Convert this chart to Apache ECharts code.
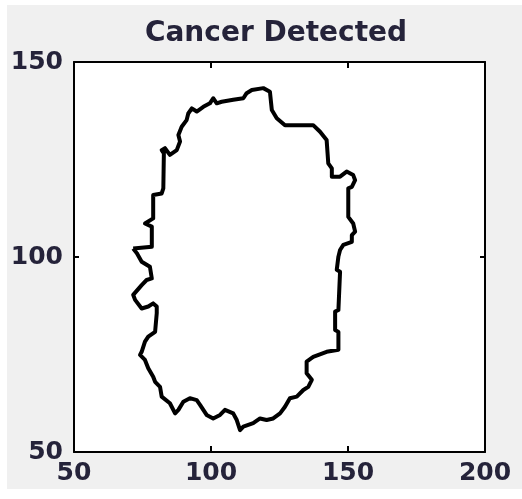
<!DOCTYPE html>
<html>
<head>
<meta charset="utf-8">
<script src="https://cdn.jsdelivr.net/npm/echarts@6/dist/echarts.min.js"></script>
<style>
  html, body { margin: 0; padding: 0; background: #ffffff; }
  #bg { position: absolute; left: 7px; top: 5px; width: 515px; height: 484px; background: #f0f0f0; }
  #chart { position: absolute; left: 0; top: 0; width: 522px; height: 499px; }
</style>
</head>
<body>
<div id="bg"></div>
<div id="chart"></div>
<script>
// Chart text
const titleText = 'Cancer Detected';
const xTicks = [50, 100, 150, 200];
const yTicks = [50, 100, 150];

// Contour of the detected region (x, y), traced clockwise
const contourX = [71.6, 78.4, 78.4, 75.9, 78.9, 78.9, 82.0, 82.6, 82.8, 82.0, 83.2, 85.0, 87.5, 88.7, 88.1, 89.3, 91.1, 91.7, 93.0, 94.8,
  97.2, 99.6, 100.8, 102.1, 103.9, 108.1, 111.8, 113.0, 114.9, 119.1, 121.5, 122.2, 124.0, 127.0, 137.3, 139.8, 142.2, 142.8, 144.1, 144.1,
  147.1, 149.5, 151.9, 152.6, 151.4, 150.1, 150.1, 151.9, 152.6, 151.4, 151.4, 148.3, 147.1, 146.5, 145.9, 147.1, 146.5, 145.3, 145.3, 146.5,
  146.5, 142.2, 137.3, 134.9, 134.9, 136.8, 135.5, 133.7, 131.3, 128.8, 127.0, 125.2, 122.7, 120.3, 117.9, 115.4, 111.8, 110.6, 109.4, 108.1,
  105.1, 103.3, 100.8, 98.4, 96.0, 94.8, 92.3, 89.9, 88.1, 86.9, 85.0, 82.0, 81.4, 79.6, 78.9, 77.1, 75.9, 74.1, 74.7, 75.9,
  77.1, 79.6, 80.2, 80.2, 78.9, 77.1, 74.7, 72.3, 71.6, 74.7, 76.5, 78.4, 77.7, 74.7, 72.9, 71.6];
const contourY = [102.2, 102.6, 107.8, 108.6, 109.9, 115.9, 116.3, 117.6, 126.6, 127.4, 127.9, 126.2, 127.4, 129.6, 131.3, 133.4, 135.1, 136.8, 138.1, 137.3,
  138.5, 139.4, 140.7, 139.4, 139.8, 140.3, 140.7, 142.0, 142.8, 143.3, 142.4, 137.7, 135.6, 133.8, 133.8, 132.1, 130.0, 124.0, 122.7, 120.6,
  120.6, 121.9, 121.0, 119.7, 118.0, 117.6, 110.3, 108.6, 106.5, 105.6, 103.9, 103.1, 101.8, 100.1, 96.7, 96.2, 86.4, 86.0, 81.3, 80.8,
  76.2, 75.7, 74.4, 73.2, 70.2, 68.5, 66.7, 65.9, 64.2, 63.8, 61.6, 59.9, 58.6, 58.2, 58.6, 57.4, 56.5, 55.6, 58.2, 59.9,
  60.8, 59.5, 58.6, 59.5, 62.1, 63.3, 63.8, 62.9, 60.8, 59.9, 62.5, 64.2, 66.7, 68.0, 69.3, 71.5, 73.6, 74.9, 75.7, 78.3,
  79.6, 80.8, 85.6, 87.3, 88.1, 87.3, 86.8, 89.0, 90.3, 92.8, 94.1, 94.5, 97.5, 98.8, 101.0, 102.2];

const points = contourX.map((x, i) => [x, contourY[i]]);

const labelStyle = { fontFamily: 'DejaVu Sans', fontWeight: 'bold', fontSize: 25, color: '#25233a' };
const lineStyle = { color: '#000000', width: 2 };

const chart = echarts.init(document.getElementById('chart'), null, { renderer: 'canvas' });
chart.setOption({
  backgroundColor: 'transparent',
  animation: false,
  graphic: [{
    type: 'text',
    x: 276,
    y: 20,
    style: {
      text: titleText,
      textAlign: 'center',
      textVerticalAlign: 'top',
      font: 'bold 28px "DejaVu Sans"',
      fill: '#25233a'
    }
  }],
  grid: {
    left: 74, right: 37, top: 62, bottom: 47,
    show: true, backgroundColor: '#ffffff', borderWidth: 0
  },
  xAxis: [{
    type: 'value', min: xTicks[0], max: xTicks[xTicks.length - 1], interval: 50, position: 'bottom',
    axisLine: { show: true, onZero: false, lineStyle: lineStyle },
    axisTick: { show: true, inside: true, length: 6, lineStyle: lineStyle },
    axisLabel: Object.assign({ margin: 9 }, labelStyle),
    splitLine: { show: false }
  }, {
    type: 'value', min: xTicks[0], max: xTicks[xTicks.length - 1], interval: 50, position: 'top',
    axisLine: { show: true, onZero: false, lineStyle: lineStyle },
    axisTick: { show: true, inside: true, length: 6, lineStyle: lineStyle },
    axisLabel: { show: false },
    splitLine: { show: false }
  }],
  yAxis: [{
    type: 'value', min: yTicks[0], max: yTicks[yTicks.length - 1], interval: 50, position: 'left',
    axisLine: { show: true, onZero: false, lineStyle: lineStyle },
    axisTick: { show: true, inside: true, length: 5, lineStyle: lineStyle },
    axisLabel: Object.assign({ margin: 11 }, labelStyle),
    splitLine: { show: false }
  }, {
    type: 'value', min: yTicks[0], max: yTicks[yTicks.length - 1], interval: 50, position: 'right',
    axisLine: { show: true, onZero: false, lineStyle: lineStyle },
    axisTick: { show: true, inside: true, length: 5, lineStyle: lineStyle },
    axisLabel: { show: false },
    splitLine: { show: false }
  }],
  series: [{
    type: 'line',
    xAxisIndex: 0,
    yAxisIndex: 0,
    data: points,
    showSymbol: false,
    symbol: 'none',
    smooth: false,
    lineStyle: { color: '#000000', width: 4, join: 'round' },
    z: 3
  }]
});
</script>
</body>
</html>
